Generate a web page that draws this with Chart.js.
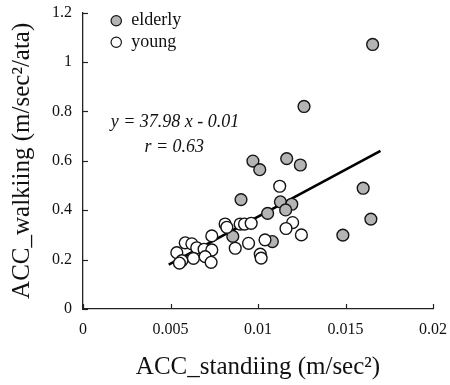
<!DOCTYPE html>
<html>
<head>
<meta charset="utf-8">
<script src="https://cdn.jsdelivr.net/npm/chart.js@4.4.1/dist/chart.umd.min.js"></script>
<style>
  html, body { margin: 0; padding: 0; background: #fff; }
  #wrap { width: 450px; height: 385px; }
</style>
</head>
<body>
<div id="wrap"><canvas id="c" width="450" height="385"></canvas></div>
<script>
// ---- data ----
const elderlyX = [0.01655, 0.01263, 0.00971, 0.01010, 0.01164, 0.01242, 0.01601, 0.00903,
                  0.01128, 0.01193, 0.01158, 0.01055, 0.01645, 0.01485, 0.00856, 0.01082];
const elderlyY = [1.071, 0.820, 0.599, 0.564, 0.609, 0.583, 0.489, 0.443,
                  0.434, 0.424, 0.401, 0.387, 0.364, 0.299, 0.294, 0.273];

const youngX = [0.01124, 0.00812, 0.00822, 0.00898, 0.00923, 0.00961, 0.01198, 0.01160,
                0.01248, 0.01040, 0.00946, 0.00870, 0.01013, 0.01018, 0.00736, 0.00584,
                0.00622, 0.00650, 0.00692, 0.00736, 0.00536, 0.00565, 0.00551, 0.00631,
                0.00698, 0.00732];
const youngY = [0.497, 0.344, 0.331, 0.344, 0.344, 0.347, 0.350, 0.326,
                0.300, 0.280, 0.266, 0.246, 0.222, 0.206, 0.296, 0.268,
                0.264, 0.248, 0.242, 0.239, 0.228, 0.196, 0.186, 0.205,
                0.212, 0.189];

const fitX = [0.0049, 0.0170];
const fitY = [0.180, 0.640];

const xTickValues = [0, 0.005, 0.01, 0.015, 0.02];
const xTickLabels = ['0', '0.005', '0.01', '0.015', '0.02'];
const yTickValues = [0, 0.2, 0.4, 0.6, 0.8, 1.0, 1.2];
const yTickLabels = ['0', '0.2', '0.4', '0.6', '0.8', '1', '1.2'];

const seriesNames = ['elderly', 'young'];
const equationText = 'y = 37.98 x - 0.01';
const rText = 'r = 0.63';
const xTitle = 'ACC_standiing (m/sec\u00B2)';
const yTitle = 'ACC_walkiing (m/sec\u00B2/ata)';

// ---- styles ----
const FONT = '"Liberation Serif", "DejaVu Serif", serif';
const GRAY = '#b4b4b4';
const EDGE = '#151515';

const zip = (xs, ys) => xs.map((x, i) => ({ x: x, y: ys[i] }));

const labelFor = (vals, labs, v) => {
  const i = vals.findIndex(t => Math.abs(t - v) < 1e-9);
  return i >= 0 ? labs[i] : '';
};

const decorPlugin = {
  id: 'decor',
  afterDraw(chart) {
    const ctx = chart.ctx;
    const xs = chart.scales.x, ys = chart.scales.y;
    const area = chart.chartArea;
    ctx.save();
    // inward tick marks
    ctx.strokeStyle = '#222';
    ctx.lineWidth = 1.2;
    xTickValues.forEach(v => {
      const px = Math.round(xs.getPixelForValue(v)) + 0.5;
      ctx.beginPath();
      ctx.moveTo(px, area.bottom);
      ctx.lineTo(px, area.bottom - 5);
      ctx.stroke();
    });
    yTickValues.forEach(v => {
      const py = Math.round(ys.getPixelForValue(v)) + 0.5;
      ctx.beginPath();
      ctx.moveTo(area.left, py);
      ctx.lineTo(area.left + 5, py);
      ctx.stroke();
    });
    // legend
    const lx = xs.getPixelForValue(0.0019);
    const items = [
      { name: seriesNames[0], fill: GRAY, y: ys.getPixelForValue(1.167), base: ys.getPixelForValue(1.150) },
      { name: seriesNames[1], fill: '#ffffff', y: ys.getPixelForValue(1.080), base: ys.getPixelForValue(1.062) }
    ];
    items.forEach(it => {
      ctx.beginPath();
      ctx.arc(lx, it.y, 5.2, 0, Math.PI * 2);
      ctx.fillStyle = it.fill;
      ctx.fill();
      ctx.lineWidth = 1.2;
      ctx.strokeStyle = EDGE;
      ctx.stroke();
      ctx.fillStyle = '#111';
      ctx.font = '18px ' + FONT;
      ctx.textAlign = 'left';
      ctx.textBaseline = 'alphabetic';
      ctx.fillText(it.name, lx + 15, it.base);
    });
    // equation annotation
    ctx.font = 'italic 18px ' + FONT;
    ctx.fillStyle = '#111';
    ctx.textAlign = 'left';
    ctx.textBaseline = 'alphabetic';
    ctx.fillText(equationText, xs.getPixelForValue(0.00158), ys.getPixelForValue(0.736));
    ctx.fillText(rText, xs.getPixelForValue(0.00351), ys.getPixelForValue(0.637));
    ctx.restore();
  }
};

new Chart(document.getElementById('c'), {
  type: 'scatter',
  data: {
    datasets: [
      {
        label: seriesNames[1],
        data: zip(youngX, youngY),
        backgroundColor: '#ffffff',
        borderColor: EDGE,
        borderWidth: 1.4,
        pointRadius: 5.9,
        pointHoverRadius: 5.9,
        order: 0
      },
      {
        label: seriesNames[0],
        data: zip(elderlyX, elderlyY),
        backgroundColor: GRAY,
        borderColor: EDGE,
        borderWidth: 1.4,
        pointRadius: 5.9,
        pointHoverRadius: 5.9,
        order: 1
      },
      {
        type: 'line',
        label: 'fit',
        data: zip(fitX, fitY),
        borderColor: '#000',
        borderWidth: 2.6,
        pointRadius: 0,
        fill: false,
        showLine: true,
        order: 2
      }
    ]
  },
  options: {
    responsive: false,
    devicePixelRatio: 1,
    animation: false,
    events: [],
    layout: { padding: { top: 12.6, right: 17, left: 0, bottom: 0 } },
    plugins: {
      legend: { display: false },
      tooltip: { enabled: false },
      title: { display: false }
    },
    scales: {
      x: {
        type: 'linear',
        min: 0, max: 0.02,
        afterFit: s => { s.height = 76; s.paddingLeft = 0; s.paddingRight = 0; s.paddingTop = 0; s.paddingBottom = 0; },
        afterBuildTicks: s => { s.ticks = xTickValues.map(v => ({ value: v })); },
        grid: { display: true, drawOnChartArea: false, drawTicks: false, color: 'rgba(0,0,0,0)' },
        border: { display: true, color: '#222', width: 1.3 },
        ticks: {
          padding: 11,
          color: '#111',
          maxRotation: 0,
          autoSkip: false,
          font: { family: FONT, size: 16 },
          callback: v => labelFor(xTickValues, xTickLabels, v)
        },
        title: {
          display: true,
          text: xTitle,
          color: '#111',
          font: { family: FONT, size: 25, lineHeight: 1.2 },
          padding: { top: 0, bottom: 3 }
        }
      },
      y: {
        type: 'linear',
        min: 0, max: 1.2,
        afterFit: s => { s.width = 83; s.paddingLeft = 0; s.paddingRight = 0; s.paddingTop = 0; s.paddingBottom = 0; },
        afterBuildTicks: s => { s.ticks = yTickValues.map(v => ({ value: v })); },
        grid: { display: true, drawOnChartArea: false, drawTicks: false, color: 'rgba(0,0,0,0)' },
        border: { display: true, color: '#222', width: 1.3 },
        ticks: {
          padding: 11,
          color: '#111',
          autoSkip: false,
          font: { family: FONT, size: 16 },
          callback: v => labelFor(yTickValues, yTickLabels, v)
        },
        title: {
          display: true,
          text: yTitle,
          color: '#111',
          font: { family: FONT, size: 25, lineHeight: 1.2 },
          padding: { top: 7, bottom: 0 }
        }
      }
    }
  },
  plugins: [decorPlugin]
});
</script>
</body>
</html>
